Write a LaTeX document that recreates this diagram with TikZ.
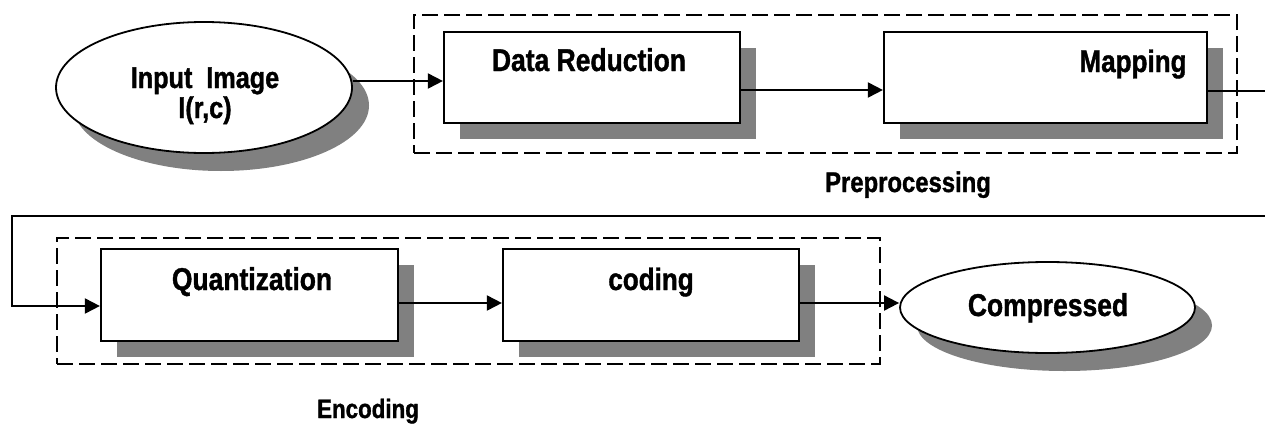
\documentclass[tikz,border=0pt]{standalone}
\usepackage{fontspec}
\setmainfont{Liberation Sans}[FakeStretch=0.84, BoldFeatures={FakeBold=1.2}]
\usetikzlibrary{shapes.geometric,shadows,arrows.meta}
\definecolor{shc}{HTML}{808080}
\tikzset{
  boxs/.style={draw=black, line width=2.2pt, fill=white, rectangle, inner sep=0pt,
    drop shadow={shadow xshift=16pt, shadow yshift=-16pt, fill=shc, opacity=1}},
  ellc/.style={draw=black, line width=1.8pt, fill=white, ellipse, inner sep=0pt,
    drop shadow={shadow xshift=17pt, shadow yshift=-18pt, fill=shc, opacity=1}},
  grp/.style={draw=black, line width=1.9pt, dash pattern=on 16pt off 6pt, rectangle, inner sep=0pt},
  ln/.style={draw=black, line width=1.9pt},
  arr/.style={ln, -{Triangle[length=15pt,width=15pt]}},
  lab/.style={inner sep=0pt, anchor=base, font=\bfseries\fontsize{31.5}{34}\selectfont},
}
\begin{document}
\begin{tikzpicture}[x=1pt,y=-1pt]
\useasboundingbox (0,0) rectangle (1265,423);
% groups
\node[grp, minimum width=823pt, minimum height=138pt] (pre) at (825.5,84) {};
\node[grp, minimum width=823pt, minimum height=126pt] (enc) at (468.5,301) {};
% shapes
\node[ellc, minimum width=296pt, minimum height=131pt] (inp) at (204,87.5) {};
\node[boxs, minimum width=296pt, minimum height=91pt] (dr) at (592,77.5) {};
\node[boxs, minimum width=323pt, minimum height=91pt] (map) at (1045.5,77.5) {};
\node[boxs, minimum width=297pt, minimum height=92pt] (q) at (249.5,295) {};
\node[boxs, minimum width=296pt, minimum height=92pt] (cod) at (651,295) {};
\node[ellc, minimum width=295pt, minimum height=91pt] (cmp) at (1047.5,307.5) {};
% labels
\node[lab, font=\bfseries\fontsize{30}{32}\selectfont] (t1) at (205,88) {Input\ \ Image};
\node[lab, font=\bfseries\fontsize{30}{32}\selectfont] (t2) at (205,118) {I(r,c)};
\node[lab] (t3) at (589,71) {Data Reduction};
\node[lab, font=\bfseries\fontsize{31}{33}\selectfont] (t4) at (1133,72) {Mapping};
\node[lab] (t5) at (252,290) {Quantization};
\node[lab, font=\bfseries\fontsize{31}{33}\selectfont] (t6) at (651,290) {coding};
\node[lab] (t7) at (1048,316) {Compressed};
\node[lab, font=\bfseries\fontsize{28.4}{30}\selectfont] (t8) at (908,192) {Preprocessing};
\node[lab, font=\bfseries\fontsize{26.6}{29}\selectfont] (t9) at (368,418) {Encoding};
% edge coordinates
\coordinate (r1) at (1265,91);
\coordinate (r2) at (1265,216);
\coordinate (l2) at (12,216);
% connectors
\draw[arr] (inp.east |- 0,81) -- (dr.west |- 0,81);
\draw[arr] (dr.east |- 0,90) -- (map.west |- 0,90);
\draw[ln] (map.east |- r1) -- (r1);
\draw[arr] (r2) -- (l2) |- (q.west |- 0,306);
\draw[arr] (q.east |- 0,303) -- (cod.west |- 0,303);
\draw[arr] (cod.east |- 0,303) -- (cmp.west |- 0,303);
\end{tikzpicture}
\end{document}
